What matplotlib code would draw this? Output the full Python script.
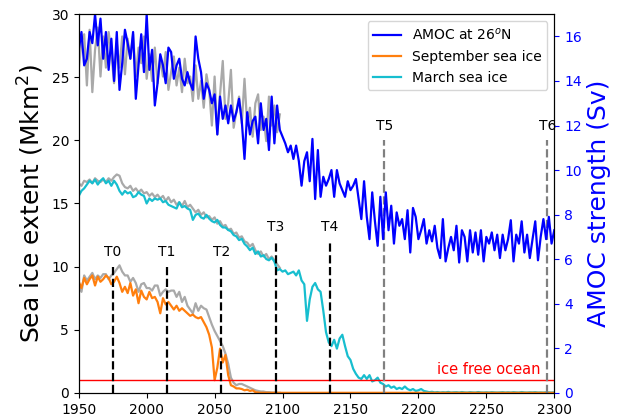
import numpy as np
import matplotlib
matplotlib.use("Agg")
import matplotlib.pyplot as plt

# years: full run 1950-2300, reference run 1950-2098 (2-year steps)
years = np.arange(1950, 2301, 2)
years_ref = np.arange(1950, 2099, 2)

# AMOC at 26N (Sv)
amoc = [15.4, 16.2, 14.7, 15.0, 16.2,
        15.7, 17.0, 15.6, 16.8, 15.0,
        16.2, 14.5, 15.9, 14.0, 16.2,
        13.6, 14.8, 16.3, 15.7, 15.0,
        16.2, 13.2, 14.7, 16.1, 14.4,
        17.0, 14.5, 15.4, 12.9, 13.9,
        15.2, 14.7, 13.9, 15.5, 15.3,
        14.1, 14.7, 15.0, 14.1, 13.8,
        14.4, 13.9, 13.6, 16.0, 15.0,
        14.4, 13.2, 13.9, 13.6, 13.0,
        13.4, 11.6, 13.3, 12.3, 12.9,
        12.1, 12.9, 12.2, 12.6, 13.2,
        12.2, 10.5, 12.6, 11.6, 12.2,
        12.4, 11.2, 13.0, 11.8, 12.3,
        10.9, 13.3, 11.2, 12.9, 11.8,
        11.5, 11.2, 10.8, 11.1, 10.5,
        11.1, 10.4, 9.3, 10.4, 10.8,
        9.5, 11.4, 8.7, 10.9, 8.8,
        9.7, 9.3, 9.6, 10.0, 8.8,
        10.0, 9.4, 9.1, 8.8, 9.5,
        9.1, 9.3, 9.6, 8.7, 7.8,
        9.5, 7.9, 6.9, 9.0, 7.7,
        6.6, 8.8, 6.9, 9.0, 7.3,
        8.4, 6.7, 8.1, 7.5, 7.8,
        6.9, 8.2, 6.3, 8.3, 7.9,
        6.9, 7.3, 7.8, 6.7, 7.3,
        6.8, 7.5, 6.5, 6.05, 7.8,
        5.9, 6.5, 7.0, 6.4, 7.5,
        5.85, 7.3, 7.0, 5.9, 7.3,
        6.3, 7.2, 6.2, 7.3, 5.9,
        7.0, 6.7, 7.2, 6.4, 7.1,
        6.05, 7.1, 6.4, 6.9, 7.75,
        5.9, 7.1, 6.7, 7.7, 6.3,
        7.1, 6.05, 6.9, 7.7, 5.95,
        7.0, 7.8, 6.9, 7.9, 6.7,
        7.3]

amoc_ref = [14.5, 15.8, 16.1, 13.8, 16.3,
            13.5, 15.4, 16.4, 14.2, 16.0,
            14.6, 16.2, 15.3, 13.9, 15.7,
            14.6, 16.0, 14.3, 15.9, 15.0,
            16.1, 14.2, 15.5, 14.8, 16.0,
            14.1, 15.2, 14.0, 15.5, 13.9,
            15.0, 14.2, 15.3, 13.6, 14.4,
            15.1, 13.8, 14.6, 13.5, 15.0,
            13.9, 14.2, 13.1, 14.7, 13.2,
            14.0, 12.8, 14.3, 13.6, 12.0,
            14.2, 11.6, 13.4, 14.9, 12.3,
            13.0, 14.5, 11.9, 12.6, 13.3,
            12.1, 14.1, 12.0, 12.8, 11.5,
            13.0, 13.4, 11.8, 12.4, 11.3,
            13.3, 12.0, 12.9, 11.7, 12.5]

# March sea ice extent (Mkm2)
march = [15.6, 16.0, 16.2, 16.5, 16.8,
         16.6, 16.9, 16.5, 16.8, 17.0,
         16.6, 16.8, 16.4, 16.8, 16.5,
         16.0, 15.7, 16.0, 15.8, 15.9,
         15.5, 15.6, 15.9, 15.7, 15.6,
         15.0, 15.4, 15.2, 15.4, 15.3,
         15.4, 15.1, 15.2, 14.9, 14.8,
         14.7, 14.6, 15.1, 14.7, 14.8,
         14.6, 14.5, 13.7, 14.1, 14.2,
         13.9, 13.8, 14.1, 13.8, 13.6,
         13.5, 13.7, 13.3, 13.1, 13.1,
         12.9, 12.8, 12.5, 12.4, 12.1,
         12.2, 11.8, 11.6, 11.3, 11.5,
         11.0, 11.2, 10.8, 10.9, 10.6,
         10.5, 10.7, 10.4, 9.7, 9.8,
         9.6, 9.7, 9.4, 9.5, 9.6,
         9.3, 9.7, 8.9, 8.6, 5.7,
         7.4, 8.4, 8.7, 8.2, 8.0,
         6.5, 4.8, 4.0, 3.7, 4.2,
         3.5, 4.3, 4.6, 3.7, 2.9,
         2.6, 1.9, 1.5, 1.2, 1.1,
         1.4, 1.1, 1.4, 0.9, 1.0,
         1.2, 0.8, 0.7, 0.5, 0.6,
         0.4, 0.5, 0.3, 0.4, 0.3,
         0.5, 0.3, 0.2, 0.3, 0.15,
         0.2, 0.3, 0.15, 0.1, 0.05,
         0.08, 0.03, 0.06, 0.02, 0.05,
         0.03, 0.07, 0.02, 0.04, 0.05,
         0.02, 0.06, 0.03, 0.02, 0.05,
         0.03, 0.02, 0.06, 0.03, 0.02,
         0.04, 0.02, 0.05, 0.03, 0.02,
         0.03, 0.05, 0.02, 0.04, 0.02,
         0.05, 0.03, 0.02, 0.06, 0.03,
         0.02, 0.04, 0.03, 0.05, 0.02,
         0.03, 0.02, 0.04, 0.03, 0.02,
         0.03]

march_ref = [16.6, 16.4, 16.8, 16.7, 16.9,
             16.6, 17.0, 16.8, 16.7, 16.9,
             16.7, 17.0, 16.8, 17.1, 17.3,
             17.2, 16.6, 16.3, 16.2, 16.4,
             16.0, 16.2, 15.9, 16.1, 15.8,
             15.9, 15.6, 15.8, 15.5, 15.7,
             15.4, 15.6, 15.2, 15.5, 15.1,
             15.3, 14.9, 15.1, 14.8, 15.2,
             14.7, 14.9, 14.6, 14.3, 14.5,
             14.1, 14.3, 13.9, 14.0, 13.7,
             13.9, 13.4, 13.6, 13.2, 13.3,
             12.9, 13.0, 12.6, 12.7, 12.3,
             12.4, 12.0, 11.9, 11.6, 11.8,
             11.3, 11.0, 11.2, 10.8, 11.0,
             10.6, 10.8, 10.5, 10.2, 9.9]

# September sea ice extent (Mkm2)
sept = [8.8, 8.3, 9.1, 8.6, 9.0,
        9.3, 8.5, 9.2, 8.8, 9.0,
        9.3, 9.1, 8.6, 8.8, 9.2,
        8.7, 8.0, 8.4, 7.9, 8.7,
        7.7, 8.2, 7.1, 8.1, 7.6,
        7.4, 8.0, 7.5, 7.6, 7.2,
        6.3, 7.5, 7.0, 7.2, 6.9,
        6.6, 6.9, 6.5, 6.7, 6.5,
        6.3, 6.1, 6.2, 6.0, 5.9,
        6.0, 5.6, 5.2, 4.6, 3.6,
        1.0, 2.0, 3.5, 2.4, 3.0,
        1.4, 0.6, 0.5, 0.35, 0.35,
        0.3, 0.2, 0.25, 0.15, 0.2,
        0.05, 0.02, 0.0, 0.0, 0.0,
        0.0, 0.0, 0.0, 0.0, 0.0,
        0.0, 0.0, 0.0, 0.0, 0.0,
        0.0, 0.0, 0.0, 0.0, 0.0,
        0.0, 0.0, 0.0, 0.0, 0.0,
        0.0, 0.0, 0.0, 0.0, 0.0,
        0.0, 0.0, 0.0, 0.0, 0.0,
        0.0, 0.0, 0.0, 0.0, 0.0,
        0.0, 0.0, 0.0, 0.0, 0.0,
        0.0, 0.0, 0.0, 0.0, 0.0,
        0.0, 0.0, 0.0, 0.0, 0.0,
        0.0, 0.0, 0.0, 0.0, 0.0,
        0.0, 0.0, 0.0, 0.0, 0.0,
        0.0, 0.0, 0.0, 0.0, 0.0,
        0.0, 0.0, 0.0, 0.0, 0.0,
        0.0, 0.0, 0.0, 0.0, 0.0,
        0.0, 0.0, 0.0, 0.0, 0.0,
        0.0, 0.0, 0.0, 0.0, 0.0,
        0.0, 0.0, 0.0, 0.0, 0.0,
        0.0, 0.0, 0.0, 0.0, 0.0,
        0.0, 0.0, 0.0, 0.0, 0.0,
        0.0, 0.0, 0.0, 0.0, 0.0,
        0.0]

sept_ref = [8.6, 8.0, 9.3, 8.9, 9.2,
            9.5, 9.0, 9.3, 9.1, 9.4,
            9.4, 9.0, 9.3, 9.5, 9.8,
            10.1, 9.6, 9.3, 9.3, 8.8,
            9.1, 8.7, 8.0, 8.6, 8.7,
            8.3, 8.3, 8.1, 8.5, 8.5,
            7.7, 8.0, 8.2, 8.0, 8.1,
            8.1, 7.6, 8.0, 7.2, 7.6,
            6.9, 6.6, 6.3, 7.1, 6.5,
            6.9, 6.7, 6.6, 6.0, 5.4,
            4.9, 4.5, 4.1, 3.7, 3.1,
            2.3, 1.2, 0.8, 0.6, 0.7,
            0.7, 0.6, 0.5, 0.4, 0.3,
            0.2, 0.15, 0.1, 0.1, 0.05,
            0.05, 0.02, 0.02, 0.0, 0.0]

# tipping/marker years
t_black = [1975, 2015, 2055, 2095, 2135]
t_black_top = [10, 10, 10, 12, 12]
t_black_lab = ["T0", "T1", "T2", "T3", "T4"]
t_gray = [2175, 2295]
t_gray_lab = ["T5", "T6"]
t_gray_top = 20

fig = plt.figure(figsize=(6.2, 4.17), dpi=100)
ax1 = fig.add_subplot(111)
fig.subplots_adjust(left=0.127, right=0.894, top=0.966, bottom=0.058)
ax2 = ax1.twinx()

# sea ice (left axis)
ax1.plot(years_ref, march_ref, color="darkgray", lw=1.6)
ax1.plot(years_ref, sept_ref, color="darkgray", lw=1.6)
l_march, = ax1.plot(years, march, color="tab:cyan", lw=1.6, label="March sea ice")
l_sept, = ax1.plot(years, sept, color="tab:orange", lw=1.6, label="September sea ice")

ax1.axhline(1, color="red", lw=1)
ax1.text(2290, 1.25, "ice free ocean", color="red", fontsize=10.5, ha="right", va="bottom")

for t, top, lab in zip(t_black, t_black_top, t_black_lab):
    ax1.plot([t, t], [0, top], color="k", lw=1.6, linestyle="--")
    ax1.text(t, top + 0.6, lab, fontsize=10, ha="center", va="bottom")
for t, lab in zip(t_gray, t_gray_lab):
    ax1.plot([t, t], [0, t_gray_top], color="gray", lw=1.6, linestyle="--")
    ax1.text(t, t_gray_top + 0.6, lab, fontsize=10, ha="center", va="bottom")

ax1.set_xlim(1950, 2300)
ax1.set_ylim(0, 30)
ax1.set_xticks(np.arange(1950, 2301, 50))
ax1.set_yticks(np.arange(0, 31, 5))
ax1.tick_params(labelsize=10)
ax1.set_ylabel("Sea ice extent (Mkm$^2$)", fontsize=18)

# AMOC (right axis)
ax2.plot(years_ref, amoc_ref, color="darkgray", lw=1.6)
l_amoc, = ax2.plot(years, amoc, color="blue", lw=1.6, label="AMOC at 26$^o$N")
ax2.set_ylim(0, 17)
ax2.set_yticks(np.arange(0, 17, 2))
ax2.tick_params(axis="y", colors="blue", labelsize=10)
ax2.set_ylabel("AMOC strength (Sv)", color="blue", fontsize=18)

ax2.legend(handles=[l_amoc, l_sept, l_march], loc="upper right", fontsize=10)

plt.savefig("out.png", dpi=100)
